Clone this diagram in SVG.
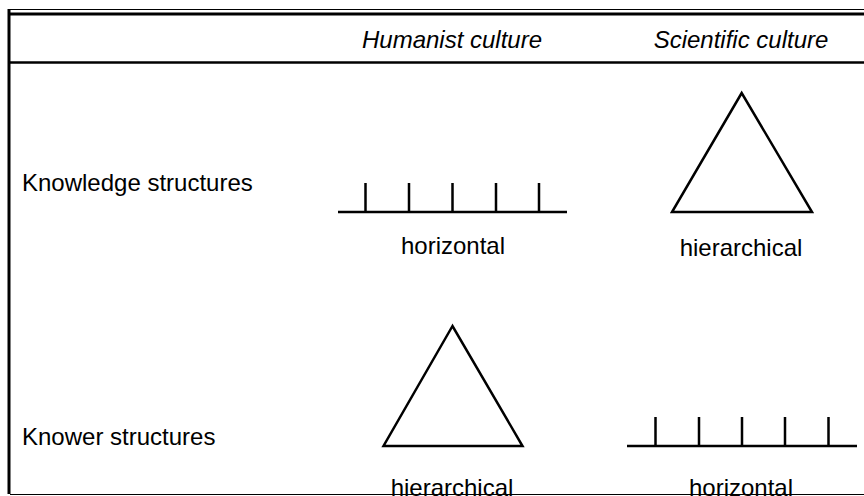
<svg xmlns="http://www.w3.org/2000/svg" width="864" height="496" viewBox="0 0 864 496">
  <style>
    text { font-family: "Liberation Sans", Arial, sans-serif; font-size: 24px; fill: #000; }
    .head { font-style: italic; text-anchor: middle; }
    .cap { text-anchor: middle; }
    .shape { fill: none; stroke: #000; stroke-width: 2.5; stroke-linejoin: miter; }
    .rule { stroke: #000; fill: none; }
  </style>
  <rect width="864" height="496" fill="#fff"/>

  <!-- table frame -->
  <g id="frame">
    <line class="rule" x1="8" y1="9.5" x2="864" y2="9.5" stroke="#777" stroke-width="1"/>
    <line class="rule" x1="8" y1="14" x2="864" y2="14" stroke-width="3"/>
    <line class="rule" x1="9" y1="9" x2="9" y2="494" stroke-width="3"/>
    <line class="rule" x1="8" y1="62.5" x2="864" y2="62.5" stroke-width="2.5"/>
    <line class="rule" x1="10" y1="494.5" x2="864" y2="494.5" stroke="#777" stroke-width="1"/>
  </g>

  <!-- column headings -->
  <g id="headings">
    <text class="head" x="452" y="48">Humanist culture</text>
    <text class="head" x="741" y="48">Scientific culture</text>
  </g>

  <!-- row labels -->
  <g id="rows">
    <text x="22" y="191">Knowledge structures</text>
    <text x="22" y="445">Knower structures</text>
  </g>

  <!-- knowledge structures, humanist: horizontal -->
  <g id="knowledge-humanist">
    <path class="shape" d="M338 212H567M365.5 183V212M409 183V212M452.5 183V212M496 183V212M539 183V212"/>
    <text class="cap" x="453" y="254">horizontal</text>
  </g>

  <!-- knowledge structures, scientific: hierarchical -->
  <g id="knowledge-scientific">
    <polygon class="shape" points="741.7,93 672,212 812,212"/>
    <text class="cap" x="741" y="256">hierarchical</text>
  </g>

  <!-- knower structures, humanist: hierarchical -->
  <g id="knower-humanist">
    <polygon class="shape" points="452.5,326 383.5,446 522.5,446"/>
    <text class="cap" x="452" y="496">hierarchical</text>
  </g>

  <!-- knower structures, scientific: horizontal -->
  <g id="knower-scientific">
    <path class="shape" d="M627 446H857M655.5 417V446M699 417V446M742 417V446M785 417V446M828.5 417V446"/>
    <text class="cap" x="741" y="496">horizontal</text>
  </g>
</svg>
